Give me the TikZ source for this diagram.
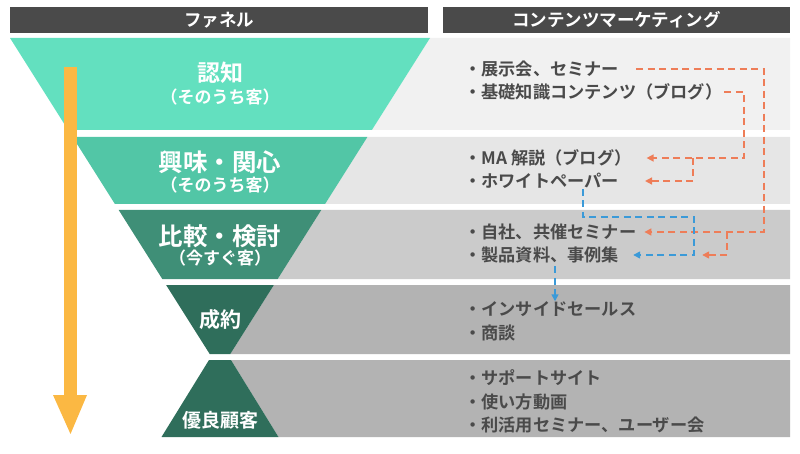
\documentclass[tikz,border=0pt]{standalone}
\usepackage{fontspec}
\setmainfont{Noto Sans CJK JP}[BoldFont={Noto Sans CJK JP Bold}]
\usetikzlibrary{positioning}
\usetikzlibrary{arrows.meta}

\definecolor{hdrgray}{HTML}{4A4A4A}
\definecolor{lvlA}{HTML}{63E0BF}
\definecolor{lvlB}{HTML}{52C6A6}
\definecolor{lvlC}{HTML}{3F8F77}
\definecolor{lvlD}{HTML}{2F6E5B}
\definecolor{bgA}{HTML}{F1F1F1}
\definecolor{bgB}{HTML}{E6E6E6}
\definecolor{bgC}{HTML}{CBCBCB}
\definecolor{bgD}{HTML}{B3B3B3}
\definecolor{flowcol}{HTML}{FBB843}
\definecolor{leadcol}{HTML}{EE7D58}
\definecolor{bluecol}{HTML}{3B9AD8}
\definecolor{itemcol}{HTML}{4A4A4A}

\tikzset{
  hdr/.style={fill=hdrgray,text=white,minimum height=26pt,inner sep=0pt,font=\fontsize{17.5}{17.5}\selectfont\bfseries},
  stage/.style={text=white,inner sep=0pt,font=\fontsize{24.5}{24.5}\selectfont\bfseries},
  sub/.style={text=white,inner sep=0pt,font=\fontsize{17}{17}\selectfont\bfseries},
  item/.style={anchor=west,text=itemcol,inner sep=0pt,font=\fontsize{17.2}{17.2}\selectfont\bfseries},
  lead/.style={draw=leadcol,line width=1.5pt,dash pattern=on 7pt off 4.5pt,-{Triangle[length=7pt,width=7pt]}},
  bluelead/.style={draw=bluecol,line width=1.5pt,dash pattern=on 7pt off 4.5pt,-{Triangle[length=7pt,width=7pt]}}
}

\begin{document}
\begin{tikzpicture}[x=1pt,y=-1pt]
\useasboundingbox (0,0) rectangle (800,454);

% headers
\node[hdr,minimum width=418pt](hfun) at (219,20){ファネル};
\node[hdr,minimum width=347pt](hcon) at (616.5,20){コンテンツマーケティング};

% right-hand bands
\fill[bgA] (430,38) -- (790,38) -- (790,130) -- (371.9,130) -- cycle;
\fill[bgB] (367.4,137) -- (790,137) -- (790,204) -- (325.1,204) -- cycle;
\fill[bgC] (321.3,210) -- (790,210) -- (790,279) -- (277.7,279) -- cycle;
\fill[bgD] (273.9,285) -- (790,285) -- (790,354) -- (230.3,354) -- cycle;
\fill[bgD] (231,360) -- (790,360) -- (790,437) -- (278.5,437) -- cycle;

% funnel
\fill[lvlA] (10,38) -- (430,38) -- (371.9,130) -- (68.1,130) -- cycle;
\fill[lvlB] (72.6,137) -- (367.4,137) -- (325.1,204) -- (114.9,204) -- cycle;
\fill[lvlC] (118.7,210) -- (321.3,210) -- (277.7,279) -- (162.3,279) -- cycle;
\fill[lvlD] (166.1,285) -- (273.9,285) -- (230.3,354) -- (209.7,354) -- cycle;
\fill[lvlD] (209,360) -- (231,360) -- (278.5,437) -- (161.5,437) -- cycle;

% flow arrow
\fill[flowcol] (64,67) rectangle (77,396);
\fill[flowcol] (53,395) -- (87,395) -- (70.5,434) -- cycle;

\node[stage,font=\fontsize{23}{23}\selectfont\bfseries](s1) at (220,73){認知};
\node[sub](s1b) at (220,97){（そのうち客）};
\node[stage](s2) at (220,162){興味・関心};
\node[sub](s2b) at (220,185){（そのうち客）};
\node[stage](s3) at (220,236){比較・検討};
\node[sub](s3b) at (220,258){（今すぐ客）};
\node[stage,font=\fontsize{21}{21}\selectfont\bfseries](s4) at (220,320){成約};
\node[stage,font=\fontsize{19}{19}\selectfont\bfseries](s5) at (220,420){優良顧客};

% contents
\node[item](t1a) at (464,69){・展示会、セミナー};
\node[item](t1b) at (464,92){・基礎知識コンテンツ（ブログ）};
\node[item](t2a) at (464,158){・MA 解説（ブログ）};
\node[item](t2b) at (464,181){・ホワイトペーパー};
\node[item](t3a) at (464,232){・自社、共催セミナー};
\node[item](t3b) at (464,255){・製品資料、事例集};
\node[item](t4a) at (464,309){・インサイドセールス};
\node[item](t4b) at (464,333){・商談};
\node[item](t5a) at (464,378){・サポートサイト};
\node[item](t5b) at (464,402){・使い方動画};
\node[item](t5c) at (464,425){・利活用セミナー、ユーザー会};

\coordinate (o1) at (764,0);
\coordinate (o2) at (744,0);
\coordinate (o3) at (693,0);
\coordinate (o4) at (727,0);
\coordinate (b0) at (583,217);
\coordinate (b1) at (694,217);
\coordinate (b2) at (555,0);

\draw[lead] ([xshift=17pt]t1a.east) -| (o1 |- t3a.east) -- ([xshift=8pt]t3a.east);
\draw[lead] ([xshift=2pt]t1b.east) -| (o2 |- t2a.east) -- ([xshift=15pt]t2a.east);
\draw[lead] (o3 |- t2a.east) |- ([xshift=26pt]t2b.east);
\draw[lead] (o4 |- t3a.east) |- ([xshift=83pt]t3b.east);
\draw[bluelead] (b0 |- t2b.south) -- (b0) -- (b1) |- ([xshift=14pt]t3b.east);
\draw[bluelead,shorten <=3pt] (b2 |- t3b.south) -- (b2 |- t4a.north);

\end{tikzpicture}
\end{document}
